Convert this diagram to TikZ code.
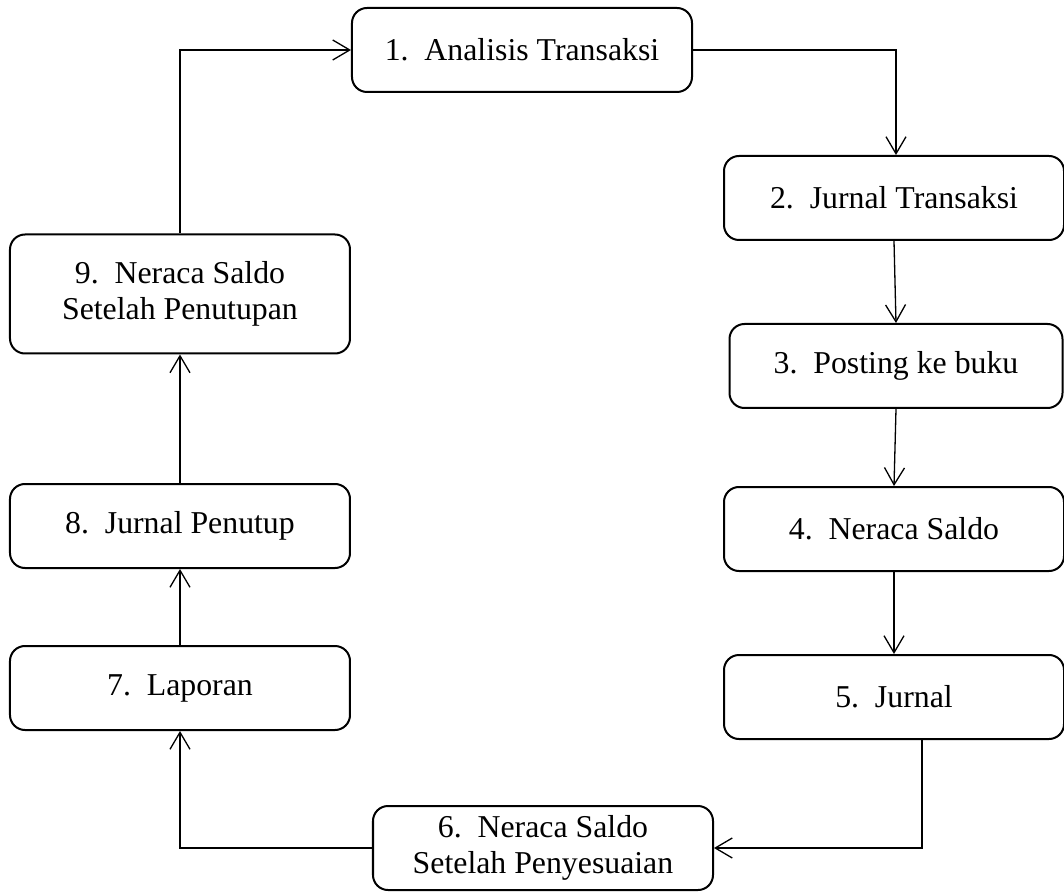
\documentclass[tikz,border=0pt]{standalone}
\usepackage{fontspec}
\setmainfont{Liberation Serif}
\usetikzlibrary{arrows.meta}
\tikzstyle{stage} = [rectangle, rounded corners=7.5pt, align=center, draw=black, line width=1pt, minimum width=170pt, minimum height=42pt, font=\fontsize{15.9}{18}\selectfont]

\begin{document}
\begin{tikzpicture}[>={Straight Barb[length=8.5pt,width=10pt]}]
	\useasboundingbox (-261pt,25pt) rectangle (271pt,-421pt);
	\node[stage] at (0,0) (analisis) {1.\ \ Analisis Transaksi}; 
	\node[stage] at ([xshift=186pt, yshift=-74pt]analisis) (jurnaltr) {2.\ \ Jurnal Transaksi};
	\node[stage, minimum width=166.5pt] at ([xshift=1pt, yshift=-84pt]jurnaltr) (posting) {3.\ \ Posting ke buku}; 
	\node[stage] at ([xshift=-1pt, yshift=-81.5pt]posting) (neraca) {4.\ \ Neraca Saldo}; 
	\node[stage] at ([yshift=-84pt]neraca) (jurnal) {5.\ \ Jurnal}; 
	\node[stage] at ([xshift=10.5pt, yshift=-399pt]analisis) (nsp) {6.\ \ Neraca Saldo\\Setelah Penyesuaian}; 
	\node[stage, minimum height=59.5pt] at ([xshift=-171pt, yshift=-122pt]analisis) (nspt) {9.\ \ Neraca Saldo\\Setelah Penutupan}; 
	\node[stage] at ([yshift=-116pt]nspt) (penutup) {8.\ \ Jurnal Penutup}; 
	\node[stage] at ([yshift=-81pt]penutup) (laporan) {7.\ \ Laporan}; 

	\begin{scope}[line width=0.65pt]
	\draw[->] (nspt.north) |- (analisis.west);
	\draw[->] (analisis.east) -| ([xshift=1pt]jurnaltr.north);
	\foreach \a\b in {jurnaltr/posting, posting/neraca, neraca/jurnal}{
		\draw[->] (\a.south) -- (\b.north); 
	}
	\foreach \a\b in {laporan/penutup, penutup/nspt}{
		\draw[->] (\a.north) -- (\b.south); 
	}
	\draw[->] ([xshift=14pt]jurnal.south) |- (nsp.east);
	\draw[->] (nsp.west) -| (laporan.south);
	\end{scope}
\end{tikzpicture}
\end{document}
